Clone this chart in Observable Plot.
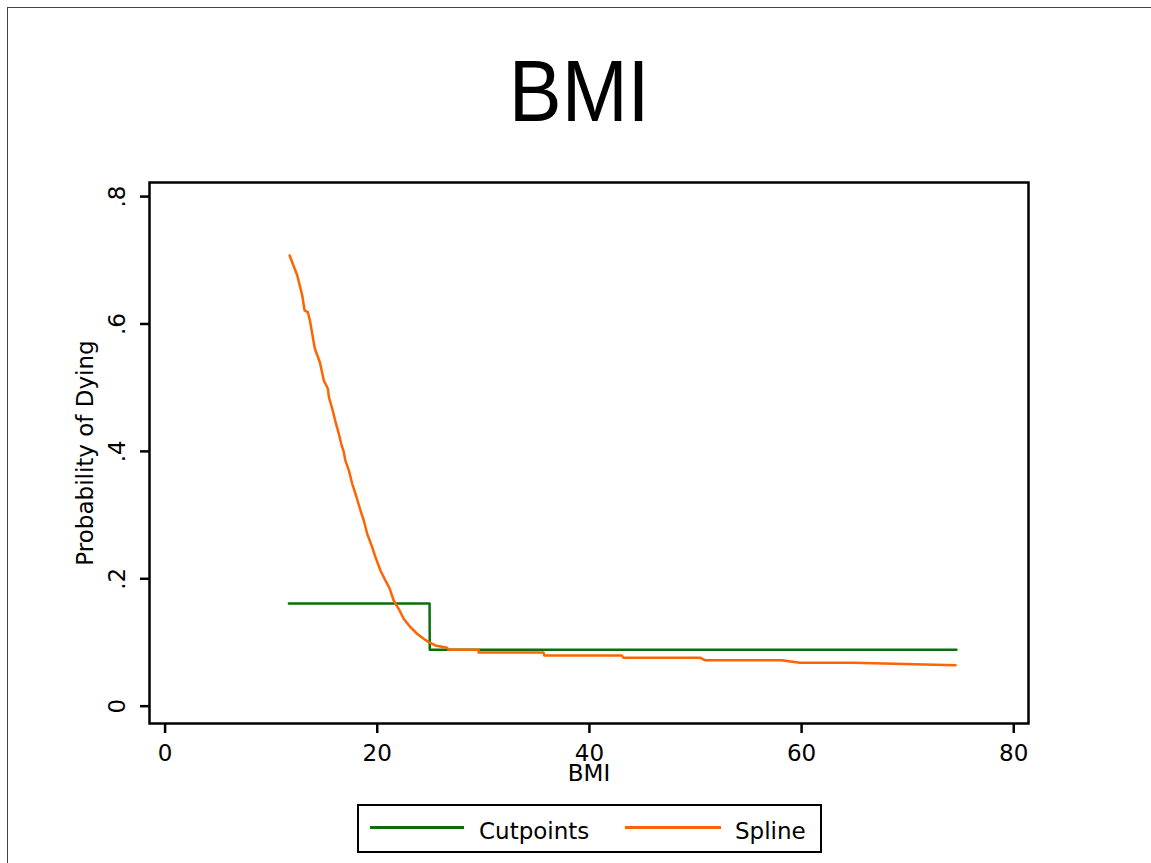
<!DOCTYPE html>
<html><head><meta charset="utf-8">
<script src="https://cdn.jsdelivr.net/npm/d3@7"></script>
<script src="https://cdn.jsdelivr.net/npm/@observablehq/plot@0.6"></script>
<style>
html,body{margin:0;padding:0;background:#fff;overflow:hidden;}
#page{position:relative;width:1151px;height:863px;overflow:hidden;font-family:"DejaVu Sans",sans-serif;background:#fff;}
#border{position:absolute;left:7px;top:7px;width:1300px;height:1000px;border:1px solid #444;}
#title{position:absolute;left:0;top:47px;width:1151px;text-align:center;font-family:"Liberation Sans",Arial,sans-serif;font-size:88px;line-height:88px;color:#000;}
#title span{display:inline-block;transform:scaleX(0.9);position:relative;left:4px;}
#chart{position:absolute;left:0;top:150px;}
#legend{position:absolute;left:357px;top:804px;width:461px;height:45px;border:2px solid #000;background:#fff;}
.lg-line{position:absolute;height:3px;top:20px;}
.lg-text{position:absolute;top:14px;font-size:23px;line-height:23px;color:#000;white-space:nowrap;}
</style>
</head><body>
<div id="page">
  <div id="border"></div>
  <div id="title"><span>BMI</span></div>
  <div id="chart"></div>
  <div id="legend"></div>
</div>
<script>
const cutBMI  = [11.67, 24.93, 24.95, 74.6];
const cutProb = [0.161, 0.161, 0.0885, 0.0885];

const splineBMI = [11.74, 12.46, 12.93, 13.15, 13.46, 13.65, 14.12, 14.59, 14.96, 15.34,
  15.44, 15.76, 16.07, 16.38, 16.60, 16.85, 16.99, 17.32, 17.64, 17.95,
  18.42, 18.73, 19.05, 19.52, 19.83, 20.30, 20.77, 21.18, 21.55, 22.02,
  22.49, 23.13, 23.75, 24.38, 24.85, 25.48, 26.58, 26.73, 29.55, 29.56,
  35.67, 35.74, 43.05, 43.20, 50.42, 50.89, 58.11, 59.83, 64.85, 74.51];
const splineProb = [0.7076, 0.6762, 0.6448, 0.6212, 0.6185, 0.6055, 0.5611, 0.5400, 0.5113, 0.4988,
  0.4851, 0.4669, 0.4458, 0.4276, 0.4119, 0.3987, 0.3858, 0.3701, 0.3491, 0.3334,
  0.3072, 0.2915, 0.2706, 0.2496, 0.2339, 0.2130, 0.1973, 0.1843, 0.1659, 0.1529,
  0.1372, 0.1240, 0.1137, 0.1058, 0.1005, 0.0953, 0.0917, 0.0885, 0.0885, 0.0843,
  0.0843, 0.0796, 0.0796, 0.0762, 0.0762, 0.0722, 0.0722, 0.0681, 0.0681, 0.0644];

const xTicks = [0, 20, 40, 60, 80];
const yTicks = [0, 0.2, 0.4, 0.6, 0.8];
const yTickLabels = ["0", ".2", ".4", ".6", ".8"];
const seriesNames = ["Cutpoints", "Spline"];
const seriesColors = ["#0a6e0a", "#ff6400"];
const xLabel = "BMI";
const yLabel = "Probability of Dying";

const cut = cutBMI.map((x, i) => ({bmi: x, p: cutProb[i]}));
const spl = splineBMI.map((x, i) => ({bmi: x, p: splineProb[i]}));

const chart = Plot.plot({
  width: 1151, height: 650,
  marginTop: 32, marginBottom: 77, marginLeft: 149, marginRight: 123,
  style: {fontFamily: "'DejaVu Sans', sans-serif", fontSize: "23px", color: "#000", background: "transparent", overflow: "visible"},
  x: {domain: [-1.47, 81.39]},
  y: {domain: [-0.0272, 0.8221]},
  marks: [
    Plot.line(cut, {x: "bmi", y: "p", stroke: seriesColors[0], strokeWidth: 2.5}),
    Plot.line(spl, {x: "bmi", y: "p", stroke: seriesColors[1], strokeWidth: 2.5}),
    Plot.frame({stroke: "#000", strokeWidth: 2.5}),
    Plot.axisX({ticks: xTicks, tickSize: 10, tickPadding: 11, strokeWidth: 2.5, label: null, tickFormat: d => String(d)}),
    Plot.axisY({ticks: yTicks, tickSize: 9, strokeWidth: 2.5, label: null, tickFormat: () => ""}),
    Plot.text(yTicks, {y: d => d, text: (d, i) => yTickLabels[i], frameAnchor: "left", dx: -32, rotate: -90, textAnchor: "middle", lineAnchor: "middle"}),
    Plot.text([xLabel], {text: d => d, frameAnchor: "bottom", dy: 50, lineAnchor: "middle"}),
    Plot.text([yLabel], {text: d => d, frameAnchor: "left", dx: -64, rotate: -90, textAnchor: "middle", lineAnchor: "middle"})
  ]
});
document.getElementById("chart").appendChild(chart);

const legend = document.getElementById("legend");
const items = [
  {lineLeft: 11, lineWidth: 94, textLeft: 120},
  {lineLeft: 266, lineWidth: 96, textLeft: 376}
];
seriesNames.forEach((name, i) => {
  const ln = document.createElement("div");
  ln.className = "lg-line";
  ln.style.left = items[i].lineLeft + "px";
  ln.style.width = items[i].lineWidth + "px";
  ln.style.background = seriesColors[i];
  legend.appendChild(ln);
  const tx = document.createElement("div");
  tx.className = "lg-text";
  tx.style.left = items[i].textLeft + "px";
  tx.textContent = name;
  legend.appendChild(tx);
});
</script>
</body></html>
